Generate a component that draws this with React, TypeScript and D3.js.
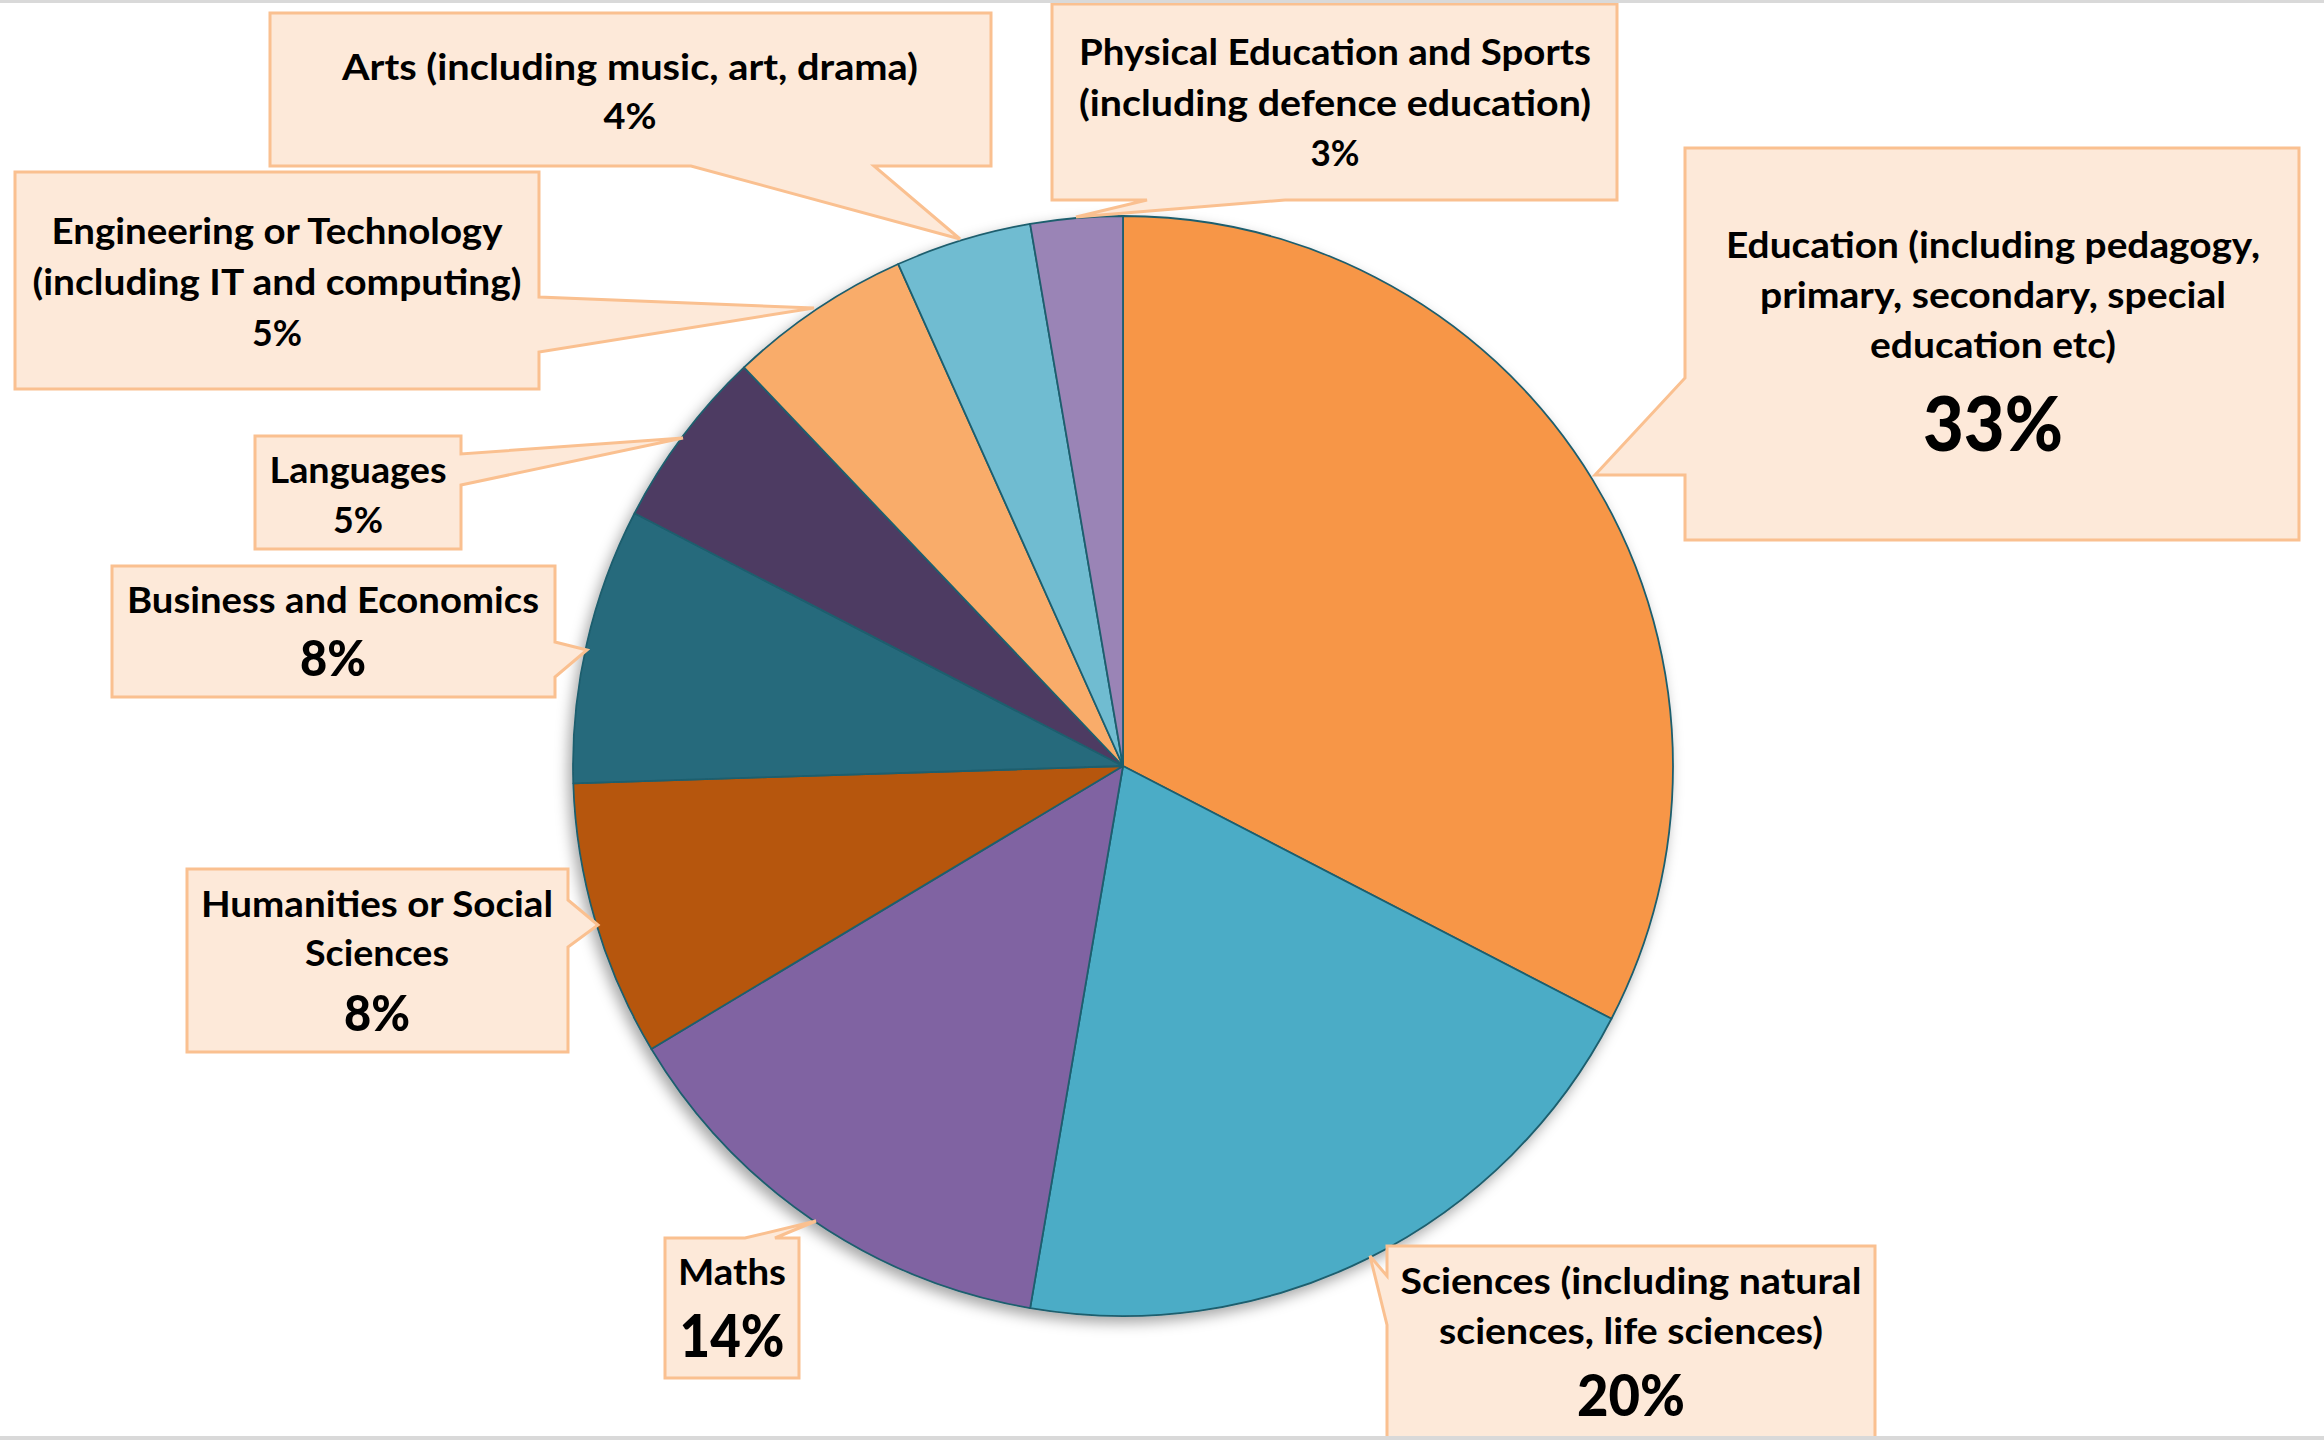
import React from "react";
import * as d3 from "d3";

// ---------- data ----------
const categories = [
  "Education (including pedagogy, primary, secondary, special education etc)",
  "Sciences (including natural sciences, life sciences)",
  "Maths",
  "Humanities or Social Sciences",
  "Business and Economics",
  "Languages",
  "Engineering or Technology (including IT and computing)",
  "Arts (including music, art, drama)",
  "Physical Education and Sports (including defence education)",
];
const labelLines = [
  ["Education (including pedagogy,", "primary, secondary, special", "education etc)"],
  ["Sciences (including natural", "sciences, life sciences)"],
  ["Maths"],
  ["Humanities or Social", "Sciences"],
  ["Business and Economics"],
  ["Languages"],
  ["Engineering or Technology", "(including IT and computing)"],
  ["Arts (including music, art, drama)"],
  ["Physical Education and Sports", "(including defence education)"],
];
const values = [32.6, 20.1, 13.7, 8.1, 8.1, 5.3, 5.4, 4.0, 2.7];
const colors = ["#F79646", "#4BACC6", "#8064A2", "#B65708", "#276A7C", "#4D3B62", "#F9AC6B", "#70BCD1", "#9A84B6"];

// ---------- layout (positions / sizes only) ----------
const W = 2324, H = 1440;
const CX = 1123, CY = 766, R = 550;
const layout = [
  { box: [1685, 148, 614, 392], ptr: { edge: "left", a: 475, b: 378, tip: [1595, 475] }, cx: 1993,
    base: [258, 308, 358], widths: [534, 466, 246], pct: { y: 451, size: 76, w: 140, wt: 900 } },
  { box: [1387, 1246, 488, 210], ptr: { edge: "left", a: 1325, b: 1276, tip: [1370, 1256] }, cx: 1631,
    base: [1294, 1344], widths: [461, 384], pct: { y: 1416, size: 58, w: 108, wt: 900 } },
  { box: [665, 1238, 134, 140], ptr: { edge: "top", a: 745, b: 775, tip: [816, 1221] }, cx: 732,
    base: [1285], widths: [108], pct: { y: 1357, size: 59, w: 105, wt: 900 } },
  { box: [187, 869, 381, 183], ptr: { edge: "right", a: 900, b: 947, tip: [598, 925] }, cx: 377,
    base: [917, 966], widths: [352, 144], pct: { y: 1031, size: 50, w: 66, wt: 900 } },
  { box: [112, 566, 443, 131], ptr: { edge: "right", a: 642, b: 677, tip: [587, 650] }, cx: 333,
    base: [613], widths: [412], pct: { y: 676, size: 50, w: 66, wt: 900 } },
  { box: [255, 436, 206, 113], ptr: { edge: "right", a: 454, b: 485, tip: [683, 438] }, cx: 358,
    base: [483], widths: [177], pct: { y: 533, size: 36, w: 50, wt: 700 } },
  { box: [15, 172, 524, 217], ptr: { edge: "right", a: 297, b: 352, tip: [814, 308] }, cx: 277,
    base: [244, 295], widths: [451, 489], pct: { y: 346, size: 36, w: 50, wt: 700 } },
  { box: [270, 13, 721, 153], ptr: { edge: "bottom", a: 874, b: 691, tip: [960, 239] }, cx: 630,
    base: [80], widths: [576], pct: { y: 129, size: 36, w: 53, wt: 700 } },
  { box: [1052, 4, 565, 196], ptr: { edge: "bottom", a: 1285, b: 1147, tip: [1076, 217] }, cx: 1335,
    base: [65, 116], widths: [512, 512], pct: { y: 166, size: 36, w: 49, wt: 700 } },
];

const FONT = "Lato, 'Open Sans', sans-serif";
const BOX_FILL = "#FDE9D9";
const BOX_STROKE = "#FAC090";

function calloutPath(box: number[], ptr: any): string {
  const [x, y, w, h] = box;
  const x2 = x + w, y2 = y + h;
  const pts: [number, number][] = [];
  pts.push([x, y]);
  if (ptr.edge === "top") pts.push([ptr.a, y], ptr.tip, [ptr.b, y]);
  pts.push([x2, y]);
  if (ptr.edge === "right") pts.push([x2, ptr.a], ptr.tip, [x2, ptr.b]);
  pts.push([x2, y2]);
  if (ptr.edge === "bottom") pts.push([ptr.a, y2], ptr.tip, [ptr.b, y2]);
  pts.push([x, y2]);
  if (ptr.edge === "left") pts.push([x, ptr.a], ptr.tip, [x, ptr.b]);
  return (d3.line()(pts) || "") + "Z";
}

export default function App() {
  const total = d3.sum(values);
  const arcs = d3.pie<number>().sort(null).value((d) => d).startAngle(0).endAngle(2 * Math.PI)(values);
  const arcGen = d3.arc<d3.PieArcDatum<number>>().innerRadius(0).outerRadius(R);

  return (
    <svg width={W} height={H} style={{ position: "absolute", left: 0, top: 0, display: "block", background: "#fff" }}>
      <defs>
        <filter id="pieShadow" x="-20%" y="-20%" width="140%" height="140%">
          <feDropShadow dx={-4} dy={6} stdDeviation={7} floodColor="#000" floodOpacity={0.35} />
        </filter>
      </defs>
      <rect x={0} y={0} width={W} height={H} fill="#fff" />
      <g transform={`translate(${CX},${CY})`} filter="url(#pieShadow)">
        {arcs.map((a, i) => (
          <path key={i} d={arcGen(a) || ""} fill={colors[i]} stroke="#1F5E6E" strokeWidth={1.8} strokeLinejoin="round" />
        ))}
      </g>
      {layout.map((L, i) => {
        const pct = Math.round((values[i] / total) * 100) + "%";
        return (
          <g key={categories[i]}>
            <path d={calloutPath(L.box, L.ptr)} fill={BOX_FILL} stroke={BOX_STROKE} strokeWidth={3} strokeLinejoin="miter" />
            {labelLines[i].map((t, j) => (
              <text key={j} x={L.cx} y={L.base[j]} textAnchor="middle" fontFamily={FONT} fontWeight={700}
                fontSize={37} fill="#000" textLength={L.widths[j]} lengthAdjust="spacingAndGlyphs">{t}</text>
            ))}
            <text x={L.cx} y={L.pct.y} textAnchor="middle" fontFamily={FONT} fontWeight={L.pct.wt}
              fontSize={L.pct.size} fill="#000" textLength={L.pct.w} lengthAdjust="spacingAndGlyphs">{pct}</text>
          </g>
        );
      })}
      <rect x={0} y={0} width={W} height={3} fill="#D9D9D9" />
      <rect x={0} y={1436} width={W} height={4} fill="#D9D9D9" />
    </svg>
  );
}
